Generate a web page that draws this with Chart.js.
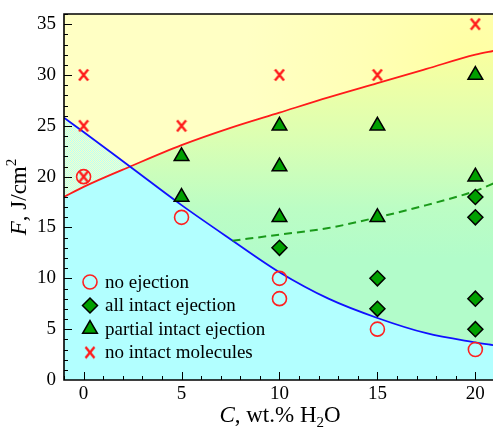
<!DOCTYPE html>
<html>
<head>
<meta charset="utf-8">
<script src="https://cdn.jsdelivr.net/npm/chart.js@4.4.0/dist/chart.umd.min.js"></script>
<style>
  html, body { margin: 0; padding: 0; background: #fff; }
  #wrap { width: 493px; height: 427px; position: relative; }
</style>
</head>
<body>
<div id="wrap"><canvas id="chart"></canvas></div>
<script>
// axis ticks
const xTicks = [0, 5, 10, 15, 20];
const yTicks = [0, 5, 10, 15, 20, 25, 30, 35];

// measured points: C (wt.% H2O) and F (J/cm2)
const noEjectionC = [0, 5, 10, 10, 15, 20];
const noEjectionF = [20, 16, 10, 8, 5, 3];
const allIntactC = [10, 15, 15, 20, 20, 20, 20];
const allIntactF = [13, 10, 7, 18, 16, 8, 5];
const partialC = [5, 5, 10, 10, 10, 15, 15, 20, 20];
const partialF = [22, 18, 25, 21, 16, 25, 16, 30, 20];
const noIntactC = [0, 0, 0, 5, 10, 15, 20];
const noIntactF = [30, 25, 20, 25, 30, 30, 35];

// boundary curves
const redC = [-1, 0, 2.5, 5, 7.5, 10, 12.5, 15, 17.5, 20, 21];
const redF = [18.0, 19.0, 21.1, 23.1, 24.8, 26.3, 27.8, 29.2, 30.6, 32.0, 32.4];
const blueC = [-1, 0, 2.5, 5, 7.5, 10, 12.5, 15, 17.5, 20, 21];
const blueF = [25.8, 24.4, 20.8, 17.2, 13.85, 10.6, 8.0, 6.1, 4.6, 3.7, 3.4];
const greenC = [7.6, 10, 12.5, 15, 17.5, 20, 21];
const greenF = [13.7, 14.3, 14.95, 16.0, 17.2, 18.6, 19.4];

const legendLabels = ['no ejection', 'all intact ejection', 'partial intact ejection', 'no intact molecules'];

const pts = (xs, ys) => xs.map((x, i) => ({ x: x, y: ys[i] }));

function makeCross() {
  const c = document.createElement('canvas');
  c.width = 12; c.height = 14;
  const g = c.getContext('2d');
  g.strokeStyle = '#ff1a1a';
  g.lineWidth = 2.4;
  g.beginPath();
  g.moveTo(1.5, 1.5); g.lineTo(10.5, 12.5);
  g.moveTo(10.5, 1.5); g.lineTo(1.5, 12.5);
  g.stroke();
  return c;
}

function makeHatch() {
  const c = document.createElement('canvas');
  c.width = 2; c.height = 2;
  const g = c.getContext('2d');
  g.fillStyle = '#ffffc0'; g.fillRect(0, 0, 2, 2);
  g.fillStyle = '#b0ffff'; g.fillRect(0, 0, 1, 1); g.fillRect(1, 1, 1, 1);
  return g.createPattern(c, 'repeat');
}

const crossImg = makeCross();
const hatch = makeHatch();

function yellowGlow(chart) {
  const { x, y } = chart.scales;
  const cx = x.getPixelForValue(20), cy = y.getPixelForValue(31);
  const g = chart.ctx.createRadialGradient(cx, cy, 0, cx, cy, 230);
  g.addColorStop(0, '#ffffa2');
  g.addColorStop(0.5, '#ffffb6');
  g.addColorStop(1, '#ffffc4');
  return g;
}

const background = {
  id: 'background',
  beforeDraw(chart) {
    const { ctx, chartArea: a, scales: { y } } = chart;
    const g = ctx.createLinearGradient(0, y.getPixelForValue(32), 0, y.getPixelForValue(12));
    g.addColorStop(0, '#f8ffa0');
    g.addColorStop(0.4, '#dcffb2');
    g.addColorStop(0.75, '#bcfdc4');
    g.addColorStop(1, '#b2fcca');
    ctx.save();
    ctx.fillStyle = g;
    ctx.fillRect(a.left, a.top, a.right - a.left, a.bottom - a.top);
    ctx.restore();
  }
};

const frame = {
  id: 'frame',
  afterDatasetsDraw(chart) {
    const { ctx, chartArea: a, scales: { x, y } } = chart;
    ctx.save();
    ctx.strokeStyle = '#000';
    ctx.lineWidth = 1;
    ctx.beginPath();
    for (let v = Math.ceil(x.min); v <= x.max; v++) {
      const px = Math.round(x.getPixelForValue(v)) + 0.5;
      const len = v % 5 === 0 ? 8 : 4;
      ctx.moveTo(px, a.bottom); ctx.lineTo(px, a.bottom - len);
    }
    for (let v = Math.ceil(y.min) + 1; v <= y.max; v++) {
      const py = Math.round(y.getPixelForValue(v)) + 0.5;
      const len = v % 5 === 0 ? 8 : 4;
      ctx.moveTo(a.left, py); ctx.lineTo(a.left + len, py);
    }
    ctx.stroke();
    ctx.lineWidth = 1.6;
    ctx.beginPath();
    ctx.moveTo(a.right, a.top); ctx.lineTo(a.left, a.top);
    ctx.lineTo(a.left, a.bottom); ctx.lineTo(a.right, a.bottom);
    ctx.stroke();
    ctx.restore();
  }
};

const cornerLegend = {
  id: 'cornerLegend',
  afterDatasetsDraw(chart) {
    const { ctx, chartArea: a } = chart;
    ctx.save();
    legendLabels.forEach((label, i) => {
      const ds = chart.data.datasets[i];
      const mx = a.left + 26, my = a.bottom - 98 + i * 23.5;
      ctx.fillStyle = ds.pointBackgroundColor;
      ctx.strokeStyle = ds.pointBorderColor;
      ctx.lineWidth = ds.pointBorderWidth;
      Chart.helpers.drawPoint(ctx, {
        pointStyle: ds.pointStyle, radius: ds.pointRadius,
        borderWidth: ds.pointBorderWidth, rotation: 0
      }, mx, my);
      ctx.fillStyle = '#000';
      ctx.font = '19px "Liberation Serif"';
      ctx.textBaseline = 'middle';
      ctx.fillText(label, a.left + 41, my + 1);
    });
    ctx.restore();
  }
};

function drawRich(ctx, parts, cx, baseY) {
  const fontFor = p => (p.italic ? 'italic ' : '') + (p.small ? 15 : 23) + 'px "Liberation Serif"';
  let total = 0;
  parts.forEach(p => { ctx.font = fontFor(p); total += ctx.measureText(p.t).width; });
  let x = cx - total / 2;
  parts.forEach(p => {
    ctx.font = fontFor(p);
    ctx.fillText(p.t, x, baseY + (p.dy || 0));
    x += ctx.measureText(p.t).width;
  });
}

const axisTitles = {
  id: 'axisTitles',
  afterDraw(chart) {
    const { ctx, chartArea: a } = chart;
    ctx.save();
    ctx.fillStyle = '#000';
    ctx.textBaseline = 'alphabetic';
    drawRich(ctx, [
      { t: 'C', italic: true }, { t: ', wt.% H' }, { t: '2', small: true, dy: 5 }, { t: 'O' }
    ], 280, 422);
    ctx.translate(26, (a.top + a.bottom) / 2);
    ctx.rotate(-Math.PI / 2);
    drawRich(ctx, [
      { t: 'F', italic: true }, { t: ', J/cm' }, { t: '2', small: true, dy: -10 }
    ], 0, 0);
    ctx.restore();
  }
};

const tickFont = { family: 'Liberation Serif', size: 19 };

new Chart(document.getElementById('chart'), {
  type: 'scatter',
  data: {
    datasets: [
      {
        label: legendLabels[0], data: pts(noEjectionC, noEjectionF), order: 1,
        pointStyle: 'circle', pointRadius: 7, pointHoverRadius: 7,
        pointBackgroundColor: 'rgba(0,0,0,0)', pointBorderColor: '#ff2020', pointBorderWidth: 1.6
      },
      {
        label: legendLabels[1], data: pts(allIntactC, allIntactF), order: 1,
        pointStyle: 'rectRot', pointRadius: 7.5, pointHoverRadius: 7.5,
        pointBackgroundColor: '#00a000', pointBorderColor: '#000', pointBorderWidth: 1.5
      },
      {
        label: legendLabels[2], data: pts(partialC, partialF), order: 1,
        pointStyle: 'triangle', pointRadius: 8.5, pointHoverRadius: 8.5,
        pointBackgroundColor: '#00a000', pointBorderColor: '#000', pointBorderWidth: 1.5
      },
      {
        label: legendLabels[3], data: pts(noIntactC, noIntactF), order: 0,
        pointStyle: crossImg, pointRadius: 7, pointHoverRadius: 7,
        pointBackgroundColor: '#ff1a1a', pointBorderColor: '#ff1a1a', pointBorderWidth: 0
      },
      {
        type: 'line', label: 'upper', data: pts(redC, redF), order: 10,
        borderColor: '#ff1a1a', borderWidth: 1.8, pointRadius: 0,
        cubicInterpolationMode: 'monotone', fill: 'end',
        backgroundColor: c => c.chart.chartArea ? yellowGlow(c.chart) : '#ffffc0'
      },
      {
        type: 'line', label: 'lower', data: pts(blueC, blueF), order: 9,
        borderColor: '#1010ff', borderWidth: 1.8, pointRadius: 0,
        cubicInterpolationMode: 'monotone', fill: 'start', backgroundColor: '#b2ffff'
      },
      {
        type: 'line', label: 'overlap', data: pts(blueC, blueF), order: 8,
        borderColor: 'rgba(0,0,0,0)', borderWidth: 0, pointRadius: 0,
        cubicInterpolationMode: 'monotone',
        fill: { target: 4, above: hatch, below: 'rgba(0,0,0,0)' }
      },
      {
        type: 'line', label: 'dashed', data: pts(greenC, greenF), order: 5,
        borderColor: '#1a9a1a', borderWidth: 2, borderDash: [8, 5], pointRadius: 0,
        cubicInterpolationMode: 'monotone', fill: false
      }
    ]
  },
  options: {
    responsive: true,
    maintainAspectRatio: false,
    animation: false,
    events: [],
    layout: { autoPadding: false, padding: { top: 14, left: 0, right: 0, bottom: 0 } },
    plugins: {
      legend: { display: false },
      tooltip: { enabled: false },
      filler: { drawTime: 'beforeDatasetsDraw' }
    },
    scales: {
      x: {
        type: 'linear', min: -1, max: 20.9,
        afterBuildTicks: s => { s.ticks = xTicks.map(v => ({ value: v })); },
        afterFit: s => { s.height = 47; s.paddingLeft = 0; s.paddingRight = 0; },
        grid: { display: false, drawTicks: false },
        border: { display: false },
        ticks: { color: '#000', font: tickFont, padding: 3, maxRotation: 0 }
      },
      y: {
        type: 'linear', min: 0, max: 36,
        afterBuildTicks: s => { s.ticks = yTicks.map(v => ({ value: v })); },
        afterFit: s => { s.width = 64; s.paddingTop = 0; s.paddingBottom = 0; },
        grid: { display: false, drawTicks: false },
        border: { display: false },
        ticks: { color: '#000', font: tickFont, padding: 8 }
      }
    }
  },
  plugins: [background, frame, cornerLegend, axisTitles]
});
</script>
</body>
</html>
